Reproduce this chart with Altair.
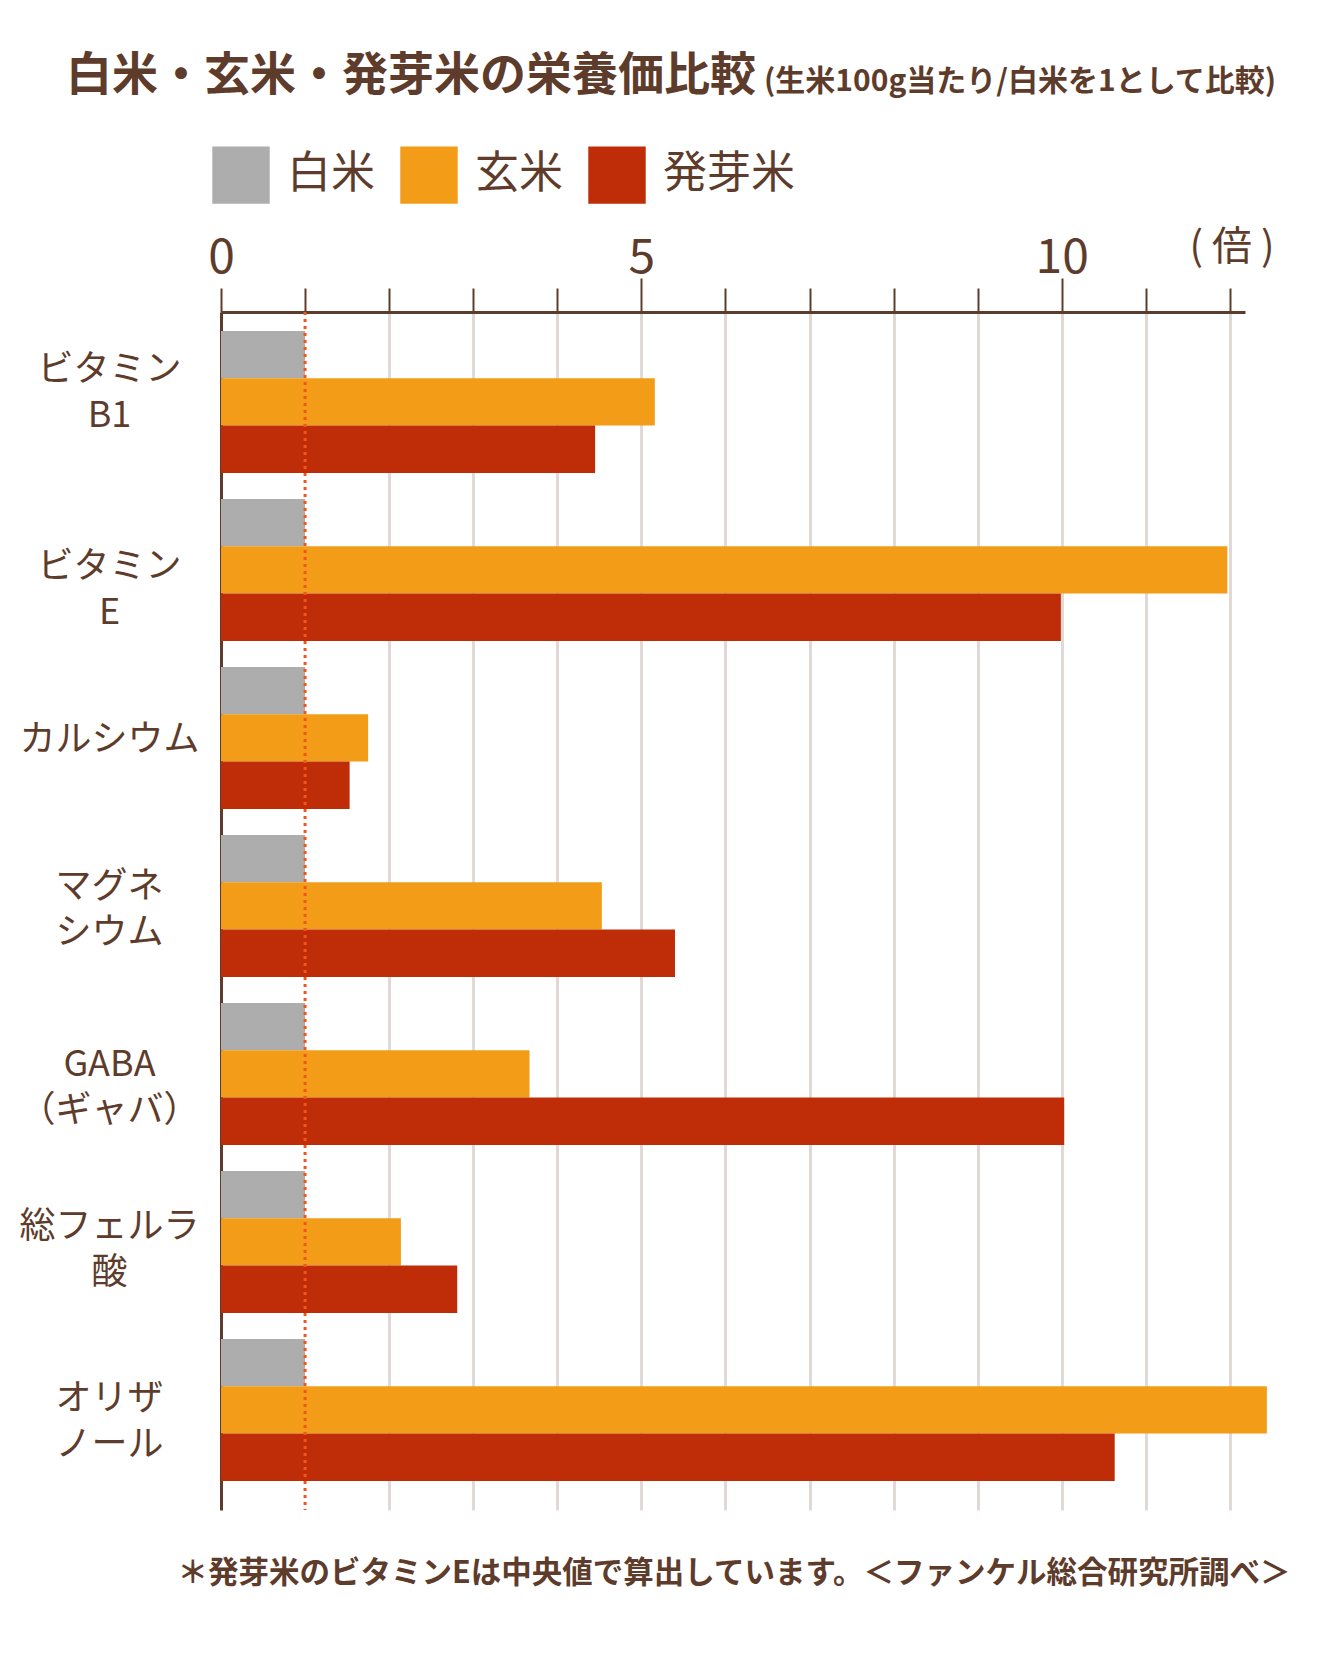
import altair as alt
import pandas as pd

categories = ["ビタミン|B1", "ビタミン|E", "カルシウム", "マグネ|シウム", "GABA|（ギャバ）", "総フェルラ|酸", "オリザ|ノール"]
series = ["白米", "玄米", "発芽米"]
white_rice = [1.0, 1.0, 1.0, 1.0, 1.0, 1.0, 1.0]
brown_rice = [5.16, 11.97, 1.75, 4.53, 3.67, 2.14, 12.44]
germ_rice = [4.45, 9.99, 1.53, 5.40, 10.03, 2.81, 10.63]
colors = ["#adadad", "#f29c18", "#bf2d08"]
x_ticks = [0, 1, 2, 3, 4, 5, 6, 7, 8, 9, 10, 11, 12]
label_shift = [-32, -3, 2, -19, -9, -15, -11]

title_text = "白米・玄米・発芽米の栄養価比較"
subtitle_text = "(生米100g当たり/白米を1として比較)"
unit_text = "( 倍 )"
note_text = "＊発芽米のビタミンEは中央値で算出しています。＜ファンケル総合研究所調べ＞"

rows = []
for i, c in enumerate(categories):
    for s, vals in zip(series, [white_rice, brown_rice, germ_rice]):
        rows.append({"cat": c, "series": s, "value": vals[i]})
df = pd.DataFrame(rows)

BROWN = "#5e3c2b"
FONT = "Noto Sans CJK JP"
W, H = 1024, 1198
XMAX = 12.18

offset_cond = [
    {"test": f"datum.value === '{c}'", "value": v}
    for c, v in zip(categories, label_shift) if v != 0
]
major = "datum.value === 5 || datum.value === 10"

bars = alt.Chart(df).mark_bar().encode(
    x=alt.X(
        "value:Q",
        scale=alt.Scale(domain=[0, XMAX], nice=False, zero=True),
        axis=alt.Axis(
            orient="top", values=x_ticks, title=None,
            labelExpr="datum.value % 5 === 0 ? format(datum.value, 'd') : ''",
            labelFont=FONT, labelFontSize=48, labelColor=BROWN,
            labelPadding={"condition": {"test": major, "value": -4}, "value": 6},
            labelFlush=False,
            domainColor=BROWN, domainWidth=3,
            tickColor=BROWN, tickWidth=2,
            tickSize={"condition": {"test": major, "value": 34}, "value": 24},
            grid=True, gridWidth=3,
            gridColor={"condition": {"test": "datum.value <= 1", "value": "transparent"}, "value": "#e0d9d5"},
        ),
    ),
    y=alt.Y(
        "cat:N", sort=categories,
        scale=alt.Scale(domain=categories, paddingInner=0.155, paddingOuter=0.143, align=0.395),
        axis=alt.Axis(
            title=None, ticks=False, tickSize=0, grid=False,
            domainColor=BROWN, domainWidth=3,
            labelExpr="split(datum.label, '|')",
            labelFont=FONT, labelFontSize=36, labelLineHeight=46, labelColor=BROWN,
            labelAlign="center", labelPadding=112, labelLimit=400,
            labelOffset={"condition": offset_cond, "value": 0},
        ),
    ),
    yOffset=alt.YOffset("series:N", sort=series,
                        scale=alt.Scale(domain=series, paddingInner=0, paddingOuter=0)),
    color=alt.Color(
        "series:N",
        scale=alt.Scale(domain=series, range=colors),
        legend=alt.Legend(
            orient="none", legendX=-9, legendY=-166, direction="horizontal", title=None,
            symbolType="square", symbolSize=3300, symbolStrokeWidth=0, symbolOpacity=1,
            labelFont=FONT, labelFontSize=44, labelColor=BROWN, labelOffset=17,
            columnPadding=25, padding=0,
        ),
    ),
)

rule = alt.Chart(pd.DataFrame({"v": [1.0]})).mark_rule(
    color="#f0561c", strokeWidth=3, strokeDash=[3, 4]
).encode(x="v:Q")

def label(text, x, y, size, weight, align="left", baseline="alphabetic"):
    return alt.Chart(pd.DataFrame({"t": [text]})).mark_text(
        font=FONT, fontSize=size, fontWeight=weight, color=BROWN,
        align=align, baseline=baseline,
    ).encode(text="t:N", x=alt.value(x), y=alt.value(y))

t_title = label(title_text, -155, -222, 46, "bold")
t_sub = label(subtitle_text, 543, -221, 30, "bold")
t_unit = label(unit_text, 1011, -64, 40, "normal", align="center", baseline="middle")
t_note = label(note_text, 513, 1262, 30.5, "bold", align="center", baseline="middle")

chart = alt.layer(bars, rule, t_title, t_sub, t_unit, t_note).properties(
    width=W, height=H,
    padding={"left": 213, "top": 304, "right": 85, "bottom": 140},
    autosize=alt.AutoSizeParams(type="none"),
    background="white",
).configure_view(stroke=None)

chart.save("out.html", embed_options={"renderer": "svg", "actions": False})
